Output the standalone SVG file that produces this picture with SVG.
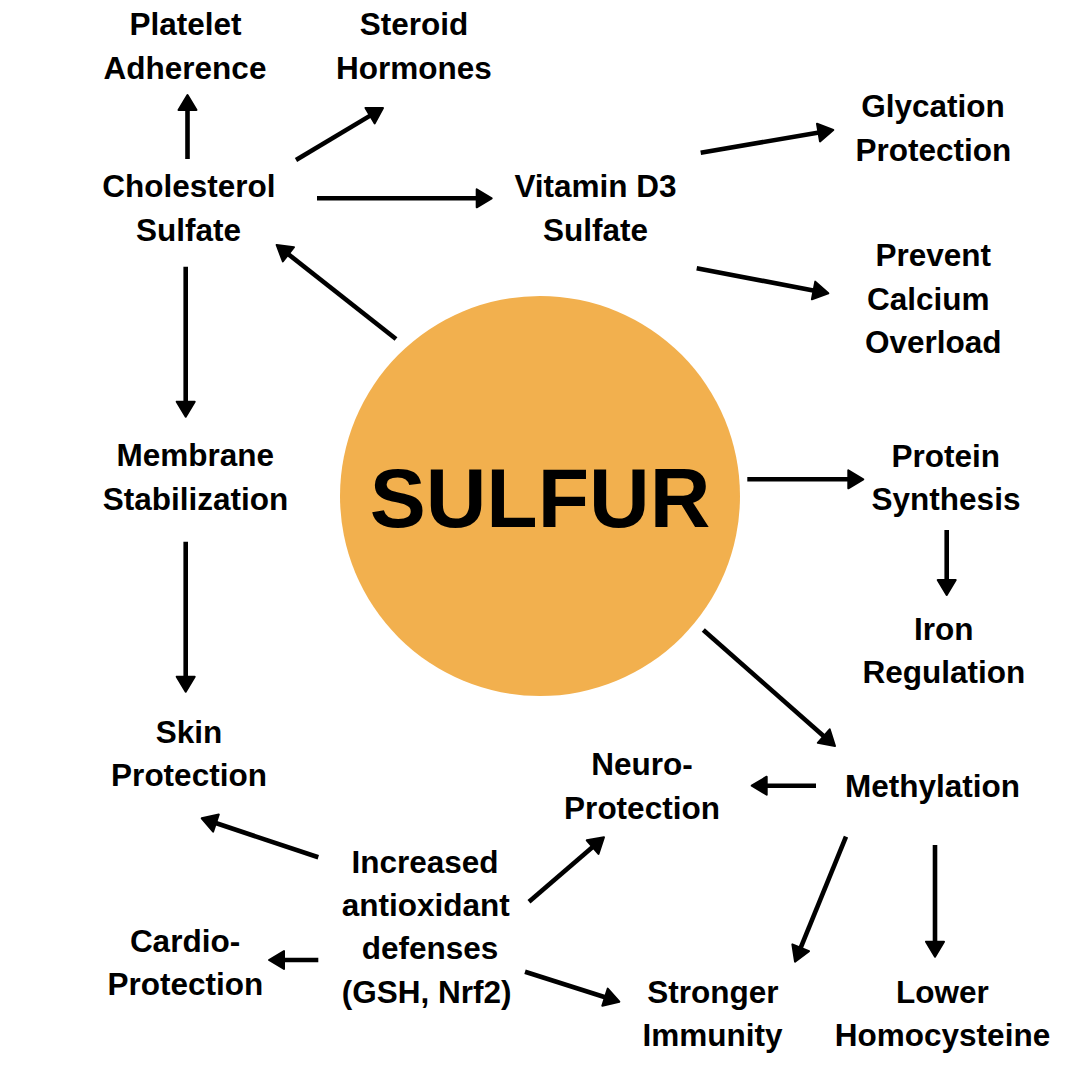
<svg xmlns="http://www.w3.org/2000/svg" width="1080" height="1080" viewBox="0 0 1080 1080">
<style>
.t{font-family:"Liberation Sans",Arial,Helvetica,sans-serif;font-weight:bold;font-size:31.5px;text-anchor:middle;fill:#000}
.big{font-size:84px}
.c{stroke:#000;stroke-width:4.6;fill:none;marker-end:url(#ah)}
</style>
<defs>
<marker id="ah" markerUnits="userSpaceOnUse" viewBox="-8 -12 22 24" refX="0" refY="0" markerWidth="22" markerHeight="24" orient="auto">
<path d="M-5,-9 L10,0 L-5,9 Z" fill="#000" stroke="#000" stroke-width="2" stroke-linejoin="round"/>
</marker>
</defs>
<rect width="1080" height="1080" fill="#fff"/>
<g id="connectors">
<line class="c" x1="187.5" y1="159" x2="187.5" y2="105"/>
<line class="c" x1="296" y1="160" x2="374.4" y2="113.1"/>
<line class="c" x1="317" y1="198.3" x2="481.7" y2="198.3"/>
<line class="c" x1="396" y1="339" x2="284.5" y2="251.2"/>
<line class="c" x1="185.7" y1="266.7" x2="185.7" y2="406.7"/>
<line class="c" x1="185.7" y1="541.7" x2="185.7" y2="681.7"/>
<line class="c" x1="700.7" y1="152.7" x2="823.4" y2="131.7"/>
<line class="c" x1="696.7" y1="268.3" x2="818.5" y2="291.4"/>
<line class="c" x1="747.3" y1="479.3" x2="853.3" y2="479.3"/>
<line class="c" x1="946.7" y1="530" x2="946.7" y2="585"/>
<line class="c" x1="703.3" y1="630" x2="827.5" y2="739.4"/>
<line class="c" x1="816" y1="785.7" x2="761.7" y2="785.7"/>
<line class="c" x1="846" y1="836.7" x2="798.8" y2="952.4"/>
<line class="c" x1="935" y1="845" x2="935" y2="946.7"/>
<line class="c" x1="318.3" y1="857.3" x2="211.2" y2="821.5"/>
<line class="c" x1="529" y1="901.7" x2="596.4" y2="843.8"/>
<line class="c" x1="318.3" y1="960" x2="279" y2="960"/>
<line class="c" x1="525" y1="971.7" x2="609.8" y2="998.7"/>
</g>
<g id="sulfur">
<circle cx="540" cy="496" r="200" fill="#F2B04E"/>
<text class="t big" x="540" y="527">SULFUR</text>
</g>
<g id="platelet"><text class="t"><tspan x="185.5" y="35">Platelet</tspan><tspan x="185" y="79">Adherence</tspan></text></g>
<g id="steroid"><text class="t"><tspan x="414" y="35">Steroid</tspan><tspan x="414" y="79">Hormones</tspan></text></g>
<g id="cholesterol"><text class="t"><tspan x="188.8" y="197">Cholesterol</tspan><tspan x="188.5" y="241">Sulfate</tspan></text></g>
<g id="vitamin"><text class="t"><tspan x="595.5" y="197">Vitamin D3</tspan><tspan x="595.5" y="241">Sulfate</tspan></text></g>
<g id="glycation"><text class="t"><tspan x="933" y="117">Glycation</tspan><tspan x="933.3" y="161">Protection</tspan></text></g>
<g id="calcium"><text class="t"><tspan x="933.3" y="266">Prevent</tspan><tspan x="928.3" y="310">Calcium</tspan><tspan x="933.3" y="353">Overload</tspan></text></g>
<g id="membrane"><text class="t"><tspan x="195.3" y="466">Membrane</tspan><tspan x="195.5" y="510">Stabilization</tspan></text></g>
<g id="protein"><text class="t"><tspan x="945.8" y="467">Protein</tspan><tspan x="946" y="510">Synthesis</tspan></text></g>
<g id="iron"><text class="t"><tspan x="943.8" y="640">Iron</tspan><tspan x="943.8" y="683">Regulation</tspan></text></g>
<g id="skin"><text class="t"><tspan x="189" y="742.7">Skin</tspan><tspan x="189" y="786">Protection</tspan></text></g>
<g id="neuro"><text class="t"><tspan x="642" y="775">Neuro-</tspan><tspan x="642" y="819">Protection</tspan></text></g>
<g id="methylation"><text class="t" x="932.5" y="797">Methylation</text></g>
<g id="antioxidant"><text class="t"><tspan x="425" y="873">Increased</tspan><tspan x="425.8" y="916">antioxidant</tspan><tspan x="430" y="959">defenses</tspan><tspan x="426.7" y="1003">(GSH, Nrf2)</tspan></text></g>
<g id="cardio"><text class="t"><tspan x="185" y="951.7">Cardio-</tspan><tspan x="185.3" y="995">Protection</tspan></text></g>
<g id="immunity"><text class="t"><tspan x="713" y="1002.7">Stronger</tspan><tspan x="712.5" y="1046">Immunity</tspan></text></g>
<g id="homocysteine"><text class="t"><tspan x="942.5" y="1002.7">Lower</tspan><tspan x="942.5" y="1046">Homocysteine</tspan></text></g>
</svg>
